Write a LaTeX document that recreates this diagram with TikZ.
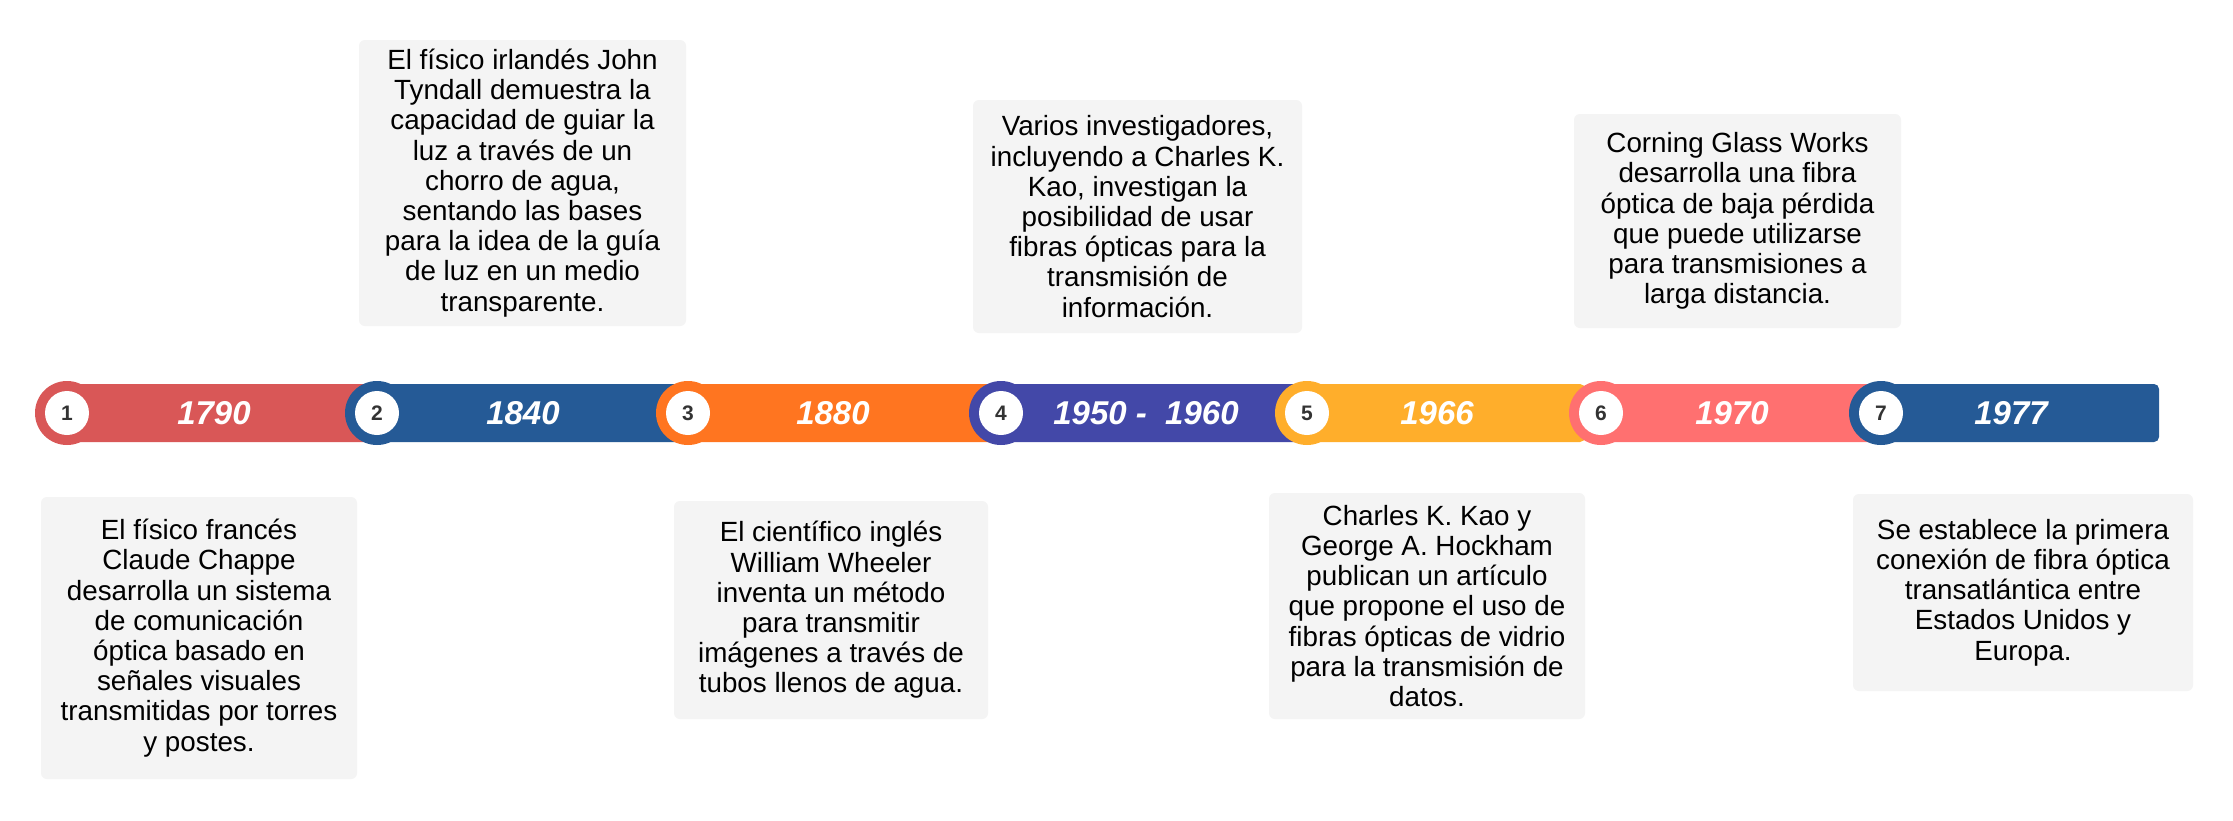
\documentclass[tikz,border=0pt]{standalone}
\usepackage{fontspec}
\setmainfont{Liberation Sans}
\definecolor{cred}{HTML}{D95757}
\definecolor{cblue}{HTML}{255A96}
\definecolor{corange}{HTML}{FF7520}
\definecolor{cindigo}{HTML}{4348A8}
\definecolor{cyellow}{HTML}{FFAE2B}
\definecolor{csalmon}{HTML}{FF7070}
\definecolor{boxgray}{HTML}{F4F4F4}
\definecolor{numdark}{HTML}{333333}
\tikzset{
  ring/.style={circle, minimum size=64pt, inner sep=0pt},
  dot/.style={circle, fill=white, minimum size=44pt, inner sep=0pt, text=numdark, font=\fontsize{21}{21}\selectfont\bfseries},
  year/.style={text=white, inner sep=0pt, font=\fontsize{33}{33}\selectfont\bfseries\itshape},
  info/.style={fill=boxgray, rounded corners=6pt, align=center, inner sep=0pt, font=\fontsize{27.8}{30.2}\selectfont},
  seg/.style={rounded corners=5pt}
}
\begin{document}
\begin{tikzpicture}[x=1pt,y=-1pt]
\useasboundingbox (0,0) rectangle (2233,820);
\fill[white] (0,0) rectangle (2233,820);

% bar segments and rings
\fill[seg, cred] (67,384) rectangle (392,442);
\node[ring, fill=cred] (r1) at (67,413) {};
\node[dot] (n1) at (r1) {1};
\fill[seg, cblue] (377,384) rectangle (703,442);
\node[ring, fill=cblue] (r2) at (377,413) {};
\node[dot] (n2) at (r2) {2};
\fill[seg, corange] (688,384) rectangle (1016,442);
\node[ring, fill=corange] (r3) at (688,413) {};
\node[dot] (n3) at (r3) {3};
\fill[seg, cindigo] (1001,384) rectangle (1322,442);
\node[ring, fill=cindigo] (r4) at (1001,413) {};
\node[dot] (n4) at (r4) {4};
\fill[seg, cyellow] (1307,384) rectangle (1585,442);
\node[ring, fill=cyellow] (r5) at (1307,413) {};
\node[dot] (n5) at (r5) {5};
\fill[seg, csalmon] (1601,384) rectangle (1896,442);
\node[ring, fill=csalmon] (r6) at (1601,413) {};
\node[dot] (n6) at (r6) {6};
\fill[seg, cblue] (1881,384) rectangle (2159,442);
\node[ring, fill=cblue] (r7) at (1881,413) {};
\node[dot] (n7) at (r7) {7};

% years
\node[year] (y1) at (214,413) {1790};
\node[year] (y2) at (523,413) {1840};
\node[year] (y3) at (833,413) {1880};
\node[year] (y4) at (1146,413) {1950 -\ \ 1960};
\node[year] (y5) at (1437,413) {1966};
\node[year] (y6) at (1732,413) {1970};
\node[year] (y7) at (2011,413) {1977};

% info boxes
\node[info, minimum width=316pt, minimum height=282pt] (b1) at (199,638) {El físico francés\\Claude Chappe\\desarrolla un sistema\\de comunicación\\óptica basado en\\señales visuales\\transmitidas por torres\\y postes.};
\node[info, minimum width=327pt, minimum height=286pt] (b2) at (522.5,183) {El físico irlandés John\\Tyndall demuestra la\\capacidad de guiar la\\luz a través de un\\chorro de agua,\\sentando las bases\\para la idea de la guía\\de luz en un medio\\transparente.};
\node[info, minimum width=314pt, minimum height=218pt] (b3) at (831,610) {El científico inglés\\William Wheeler\\inventa un método\\para transmitir\\imágenes a través de\\tubos llenos de agua.};
\node[info, minimum width=329pt, minimum height=233pt] (b4) at (1137.5,216.5) {Varios investigadores,\\incluyendo a Charles K.\\Kao, investigan la\\posibilidad de usar\\fibras ópticas para la\\transmisión de\\información.};
\node[info, minimum width=316pt, minimum height=226pt] (b5) at (1427,606) {Charles K. Kao y\\George A. Hockham\\publican un artículo\\que propone el uso de\\fibras ópticas de vidrio\\para la transmisión de\\datos.};
\node[info, minimum width=327pt, minimum height=214pt] (b6) at (1737.5,221) {Corning Glass Works\\desarrolla una fibra\\óptica de baja pérdida\\que puede utilizarse\\para transmisiones a\\larga distancia.};
\node[info, minimum width=340pt, minimum height=197pt] (b7) at (2023,592.5) {Se establece la primera\\conexión de fibra óptica\\transatlántica entre\\Estados Unidos y\\Europa.};
\end{tikzpicture}
\end{document}
